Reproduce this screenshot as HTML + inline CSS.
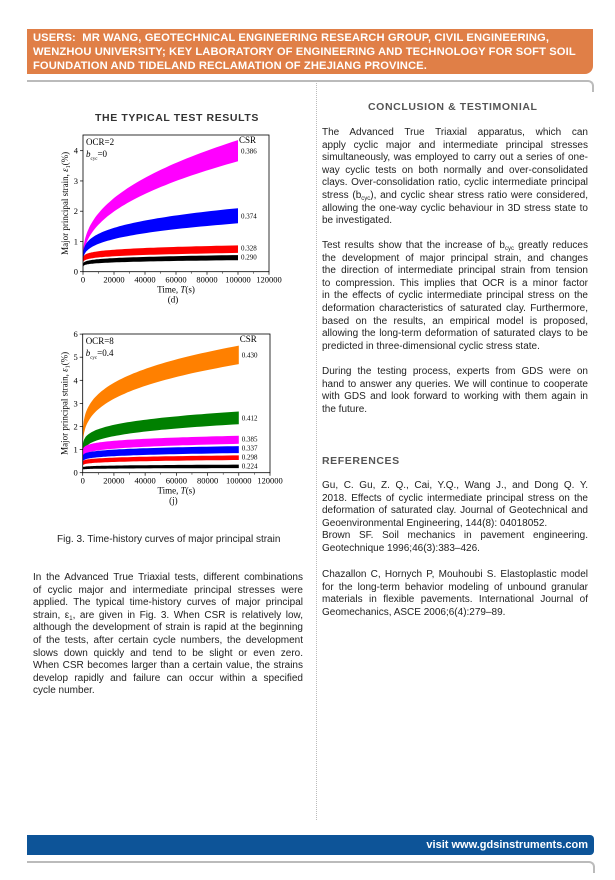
<!DOCTYPE html>
<html><head><meta charset="utf-8">
<style>
body{margin:0;width:615px;height:880px;background:#fff;position:relative;overflow:hidden;font-family:"Liberation Sans",sans-serif;}
.abs{position:absolute;}
.hdr{left:27px;top:29px;width:566px;height:45px;background:#e07f47;border-radius:0 0 8px 0;color:#fff;font-weight:bold;font-size:11.2px;line-height:14px;padding:2px 0 0 6px;box-sizing:border-box;letter-spacing:0.1px;white-space:nowrap;}
.txt{font-size:10px;line-height:12.6px;color:#222;}
.txt div{text-align:justify;text-align-last:justify;white-space:nowrap;height:12.6px;}
.txt div.l{text-align-last:left;}
.sb{font-size:6px;position:relative;top:2px;line-height:0;}
.h{font-size:10.5px;font-weight:bold;color:#555;letter-spacing:0.6px;}
svg text{font-family:"Liberation Serif",serif;}
</style></head><body>
<div class="abs hdr">USERS:&nbsp; MR WANG, GEOTECHNICAL ENGINEERING RESEARCH GROUP, CIVIL ENGINEERING,<br>WENZHOU UNIVERSITY; KEY LABORATORY OF ENGINEERING AND TECHNOLOGY FOR SOFT SOIL<br>FOUNDATION AND TIDELAND RECLAMATION OF ZHEJIANG PROVINCE.</div>
<div class="abs" style="left:27px;top:80px;width:565px;height:10px;border-top:2px solid #bbb;border-right:2px solid #bbb;border-radius:0 6px 0 0;"></div>
<div class="abs" style="left:316px;top:80px;height:740px;border-left:1px dotted #bbb;"></div>

<div class="abs h" style="left:95px;top:112px;color:#333;">THE TYPICAL TEST RESULTS</div>
<svg class="abs" style="left:0;top:0" width="315" height="530" id="sv"></svg>

<div class="abs txt" style="left:57px;top:534px;">Fig. 3. Time-history curves of major principal strain</div>
<div class="abs txt" style="left:33px;top:572px;width:270px;">
<div>In the Advanced True Triaxial tests, different combinations</div>
<div>of cyclic major and intermediate principal stresses were</div>
<div>applied. The typical time-history curves of major principal</div>
<div>strain, ε<span class="sb">1</span>, are given in Fig. 3. When CSR is relatively low,</div>
<div>although the development of strain is rapid at the beginning</div>
<div>of the tests, after certain cycle numbers, the development</div>
<div>slows down quickly and tend to be slight or even zero.</div>
<div>When CSR becomes larger than a certain value, the strains</div>
<div>develop rapidly and failure can occur within a specified</div>
<div class="l">cycle number.</div>
</div>

<div class="abs h" style="left:368px;top:101px;">CONCLUSION &amp; TESTIMONIAL</div>
<div class="abs txt" style="left:322px;top:127px;width:266px;">
<div>The Advanced True Triaxial apparatus, which can</div>
<div>apply cyclic major and intermediate principal stresses</div>
<div>simultaneously, was employed to carry out a series of one-</div>
<div>way cyclic tests on both normally and over-consolidated</div>
<div>clays. Over-consolidation ratio, cyclic intermediate principal</div>
<div>stress (b<span class="sb">cyc</span>), and cyclic shear stress ratio were considered,</div>
<div>allowing the one-way cyclic behaviour in 3D stress state to</div>
<div class="l">be investigated.</div>
</div>
<div class="abs txt" style="left:322px;top:240px;width:266px;">
<div>Test results show that the increase of b<span class="sb">cyc</span> greatly reduces</div>
<div>the development of major principal strain, and changes</div>
<div>the direction of intermediate principal strain from tension</div>
<div>to compression. This implies that OCR is a minor factor</div>
<div>in the effects of cyclic intermediate principal stress on the</div>
<div>deformation characteristics of saturated clay. Furthermore,</div>
<div>based on the results, an empirical model is proposed,</div>
<div>allowing the long-term deformation of saturated clays to be</div>
<div class="l">predicted in three-dimensional cyclic stress state.</div>
</div>
<div class="abs txt" style="left:322px;top:366px;width:266px;">
<div>During the testing process, experts from GDS were on</div>
<div>hand to answer any queries. We will continue to cooperate</div>
<div>with GDS and look forward to working with them again in</div>
<div class="l">the future.</div>
</div>
<div class="abs h" style="left:322px;top:455px;">REFERENCES</div>
<div class="abs txt" style="left:322px;top:480px;width:266px;">
<div>Gu, C. Gu, Z. Q., Cai, Y.Q., Wang J., and Dong Q. Y.</div>
<div>2018. Effects of cyclic intermediate principal stress on the</div>
<div>deformation of saturated clay. Journal of Geotechnical and</div>
<div class="l">Geoenvironmental Engineering, 144(8): 04018052.</div>
<div>Brown SF. Soil mechanics in pavement engineering.</div>
<div class="l">Geotechnique 1996;46(3):383–426.</div>
</div>
<div class="abs txt" style="left:322px;top:569px;width:266px;">
<div>Chazallon C, Hornych P, Mouhoubi S. Elastoplastic model</div>
<div>for the long-term behavior modeling of unbound granular</div>
<div>materials in flexible pavements. International Journal of</div>
<div class="l">Geomechanics, ASCE 2006;6(4):279–89.</div>
</div>

<div class="abs" style="left:27px;top:835px;width:567px;height:20px;background:#0d5498;border-radius:0 4px 4px 0;color:#fff;font-weight:bold;font-size:11px;line-height:20px;text-align:right;padding-right:6px;box-sizing:border-box;">visit www.gdsinstruments.com</div>
<div class="abs" style="left:27px;top:861px;width:566px;height:10px;border-top:2px solid #bbb;border-right:2px solid #bbb;border-radius:0 6px 0 0;"></div>

<script>
var s='';
function chart(x0,x1,y0,ytop,ymax,unit,yt,bands,labels,ocr,bv,sub){
  var xs=(x1-x0)/120000;
  var X=function(t){return x0+t*xs}, Y=function(v){return y0-v*unit};
  bands.forEach(function(b){
    var up=[],lo=[];
    for(var i=0;i<=60;i++){var t=100000*Math.pow(i/60,2.2);var f=Math.pow(t/1e5,b[3]);
      up.push(X(t).toFixed(1)+','+Y(b[4]+(b[0]-b[4])*f).toFixed(1));
      lo.unshift(X(t).toFixed(1)+','+Y(b[4]*0.6+(b[1]-b[4]*0.6)*f).toFixed(1));}
    s+='<polygon fill="'+b[2]+'" points="'+up.join(' ')+' '+lo.join(' ')+'"/>';
  });
  s+='<rect x="'+x0+'" y="'+ytop+'" width="'+(x1-x0)+'" height="'+(y0-ytop)+'" fill="none" stroke="#000" stroke-width="0.8"/>';
  for(var t=0;t<=120000;t+=20000){s+='<line x1="'+X(t)+'" x2="'+X(t)+'" y1="'+y0+'" y2="'+(y0+3)+'" stroke="#000" stroke-width="0.7"/><text x="'+X(t)+'" y="'+(y0+11)+'" font-size="8.5" text-anchor="middle">'+t+'</text>';}
  for(var t=10000;t<120000;t+=20000)s+='<line x1="'+X(t)+'" x2="'+X(t)+'" y1="'+y0+'" y2="'+(y0+2)+'" stroke="#000" stroke-width="0.5"/>';
  for(var v=0;v<=yt;v++){s+='<line x1="'+(x0-3)+'" x2="'+x0+'" y1="'+Y(v)+'" y2="'+Y(v)+'" stroke="#000" stroke-width="0.7"/><text x="'+(x0-5)+'" y="'+(Y(v)+3)+'" font-size="8.5" text-anchor="end">'+v+'</text>';}
  s+='<text x="'+((x0+x1)/2)+'" y="'+(y0+21)+'" font-size="9" text-anchor="middle">Time, <tspan font-style="italic">T</tspan>(s)</text>';
  s+='<text x="'+((x0+x1)/2-3)+'" y="'+(y0+31)+'" font-size="9" text-anchor="middle">'+sub+'</text>';
  var cy=(y0+ytop)/2;
  s+='<text transform="translate('+(x0-15)+','+cy+') rotate(-90)" font-size="9" text-anchor="middle">Major principal strain, <tspan font-style="italic">ε</tspan><tspan font-size="6" dy="2">1</tspan><tspan dy="-2">(%)</tspan></text>';
  s+='<text x="'+(x0+3)+'" y="'+(ytop+10)+'" font-size="9">'+ocr+'</text>';
  s+='<text x="'+(x0+3)+'" y="'+(ytop+22)+'" font-size="9"><tspan font-style="italic">b</tspan><tspan font-size="5" dy="3">cyc</tspan><tspan dy="-3">=' +bv+'</tspan></text>';
  s+='<text x="'+(X(100000)+1)+'" y="'+(ytop+8)+'" font-size="9">CSR</text>';
  labels.forEach(function(l){s+='<text x="'+(X(100000)+3)+'" y="'+(l[1]+2.5)+'" font-size="7">'+l[0]+'</text>';});
}
chart(83,269,271.7,135,4.5,30.25,4,[
 [4.35,3.65,'#ff00ff',0.42,0.45],
 [2.1,1.6,'#0000ff',0.3,0.4],[0.87,0.62,'#ff0000',0.18,0.3],[0.55,0.38,'#000',0.18,0.15]],
 [['0.386',151],['0.374',216],['0.328',248],['0.290',257]],'OCR=2','0','(d)');
chart(82.7,270,472.7,334,6,23.1,6,[
 [5.5,4.7,'#ff8000',0.3,1.3],[2.65,2.1,'#008000',0.25,0.9],[1.6,1.25,'#ff00ff',0.2,0.8],[1.15,0.85,'#0000ff',0.2,0.6],[0.75,0.55,'#ff0000',0.2,0.4],[0.35,0.2,'#000',0.2,0.2]],
 [['0.430',355],['0.412',418],['0.385',439],['0.337',448],['0.298',457],['0.224',466]],'OCR=8','0.4','(j)');
document.getElementById('sv').innerHTML=s;
</script>
</body></html>
